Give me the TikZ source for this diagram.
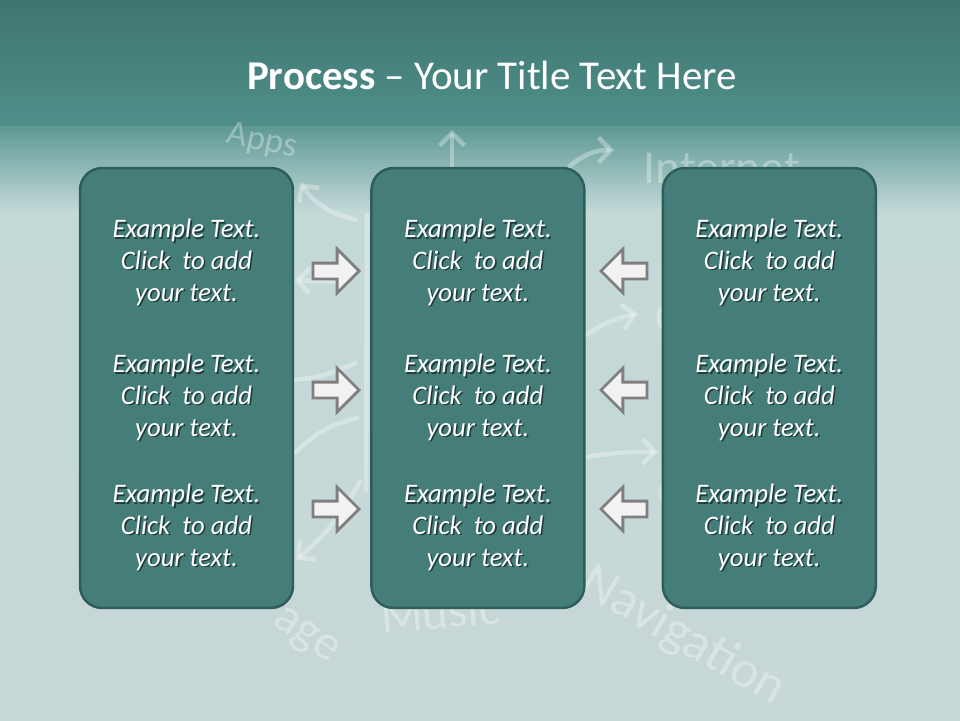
\documentclass[tikz,border=0pt]{standalone}
\usepackage{fontspec}
\setmainfont{Carlito}
\usepackage{tikz}
\usetikzlibrary{positioning,shapes.arrows,arrows.meta}

\definecolor{bandtop}{HTML}{3F7571}
\definecolor{bandbot}{HTML}{4F8F89}
\definecolor{fadetop}{HTML}{5E9994}
\definecolor{board}{HTML}{C3D9D8}
\definecolor{boardbot}{HTML}{C8D7D7}
\definecolor{boxfill}{HTML}{457D79}
\definecolor{boxline}{HTML}{2D5E5B}
\definecolor{arrowfill}{HTML}{F2F2F2}
\definecolor{arrowline}{HTML}{7F7F7F}
\definecolor{txtshadow}{HTML}{1E3B39}

% text with a small drop shadow
\newcommand\sh[1]{\rlap{\kern0.9pt\raisebox{-0.9pt}{\color{txtshadow}#1}}#1}
\newcommand\blurb{\sh{Example Text.}\\ \sh{Click~ to add}\\ \sh{your text.}}

\begin{document}
\begin{tikzpicture}[x=0.02cm, y=-0.02cm, node distance=1.52cm,
    box/.style={draw=boxline, fill=boxfill, line width=1.4pt, rounded corners=0.44cm,
        minimum width=4.26cm, minimum height=8.8cm, inner sep=0pt},
    txt/.style={text=white, align=center, inner sep=0pt,
        font=\fontsize{15.2}{18.1}\selectfont\itshape},
    rarrow/.style={single arrow, draw=arrowline, fill=arrowfill, line width=1.6pt,
        inner xsep=0pt, inner ysep=0.13cm, minimum height=0.92cm,
        single arrow head extend=0.28cm, anchor=tip},
    larrow/.style={rarrow, shape border rotate=180},
    chalk/.style={draw=white, opacity=0.32, line width=2.6pt, line cap=round},
    chalktext/.style={text=white, text opacity=0.33, inner sep=0pt}]

    % board
    \useasboundingbox (0,0) rectangle (960,720);
    \fill[top color=bandtop, bottom color=bandbot] (0,0) rectangle (960,126);
    \fill[top color=fadetop, bottom color=board] (0,126) rectangle (960,212);
    \fill[top color=board, bottom color=boardbot] (0,212) rectangle (960,720);

    % chalk scribbles behind the boxes
    \node[chalktext, rotate=-30, font=\fontsize{30}{30}\selectfont] (nav) at (683,637) {Navigation};
    \node[chalktext, rotate=5, font=\fontsize{28}{28}\selectfont] (music) at (440,612) {Music};
    \node[chalktext, rotate=-35, font=\fontsize{28}{28}\selectfont] (image) at (305,637) {age};
    \node[chalktext, font=\fontsize{27}{27}\selectfont] (inet) at (722,168) {Internet};
    \node[chalktext, rotate=-12, font=\fontsize{20}{20}\selectfont] (apps) at (262,142) {Apps};
    \node[chalktext, font=\fontsize{26}{26}\selectfont] (c1) at (668,318) {C};
    \node[chalktext, font=\fontsize{26}{26}\selectfont] (c2) at (670,494) {C};
    \draw[chalk, -{Straight Barb[length=7pt]}] (356,220) to[bend left=20] (300,183);
    \draw[chalk, -{Straight Barb[length=7pt]}] (340,282) -- (294,280);
    \draw[chalk] (355,363) to[bend left=10] (294,380);
    \draw[chalk] (357,418) to[bend right=15] (296,452);
    \draw[chalk, -{Straight Barb[length=7pt]}] (360,482) to[bend left=10] (296,560);
    \draw[chalk] (367,215) -- (366,490);
    \draw[chalk, -{Straight Barb[length=7pt]}] (452,168) -- (452,130);
    \draw[chalk, -{Straight Barb[length=7pt]}] (570,166) to[bend left=20] (614,150);
    \draw[chalk, -{Straight Barb[length=7pt]}] (586,335) to[bend left=12] (638,314);
    \draw[chalk, -{Straight Barb[length=7pt]}] (586,457) to[bend left=5] (658,452);

    % the three columns
    \node[box] (left) at (186.5,388) {};
    \node[box, right=of left] (mid) {};
    \node[box, right=of mid] (right) {};

    % texts
    \node[txt] (left1) at (left |- 0,263) {\blurb};
    \node[txt] (left2) at (left |- 0,398) {\blurb};
    \node[txt] (left3) at (left |- 0,528) {\blurb};
    \node[txt] (mid1) at (mid |- 0,263) {\blurb};
    \node[txt] (mid2) at (mid |- 0,398) {\blurb};
    \node[txt] (mid3) at (mid |- 0,528) {\blurb};
    \node[txt] (right1) at (right |- 0,263) {\blurb};
    \node[txt] (right2) at (right |- 0,398) {\blurb};
    \node[txt] (right3) at (right |- 0,528) {\blurb};

    % arrows into the middle column
    \node[rarrow] (in1) at (361,271) {};
    \node[rarrow] (in2) at (361,390) {};
    \node[rarrow] (in3) at (361,509) {};
    \node[larrow] (back1) at (599,271) {};
    \node[larrow] (back2) at (599,390) {};
    \node[larrow] (back3) at (599,509) {};

    % title
    \node[text=white, font=\fontsize{23.3}{27}\selectfont] (title) at (492,75)
        {\textbf{Process} \textendash{} Your Title Text Here};
\end{tikzpicture}
\end{document}
